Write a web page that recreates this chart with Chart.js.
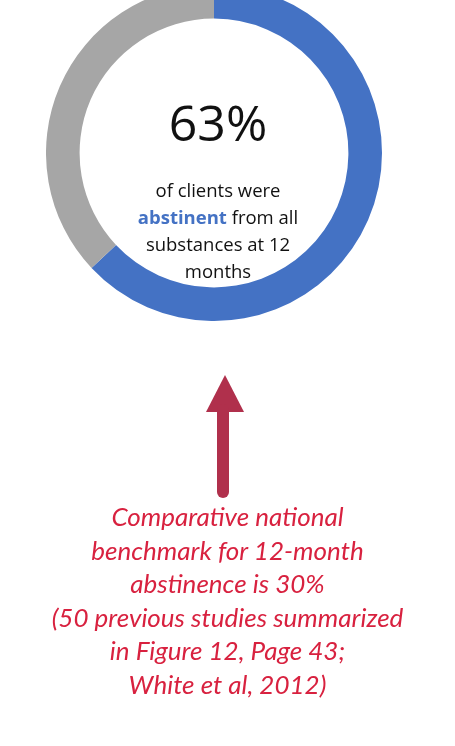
<!DOCTYPE html>
<html>
<head>
<meta charset="utf-8">
<script src="https://cdn.jsdelivr.net/npm/chart.js@4"></script>
<style>
  body { margin: 0; width: 455px; height: 746px; background: #fff; position: relative; overflow: hidden; font-family: "Open Sans", sans-serif; }
  #wrap { position: absolute; left: 46px; top: -15px; width: 336px; height: 336px; }
  .center { position: absolute; left: 94px; width: 248px; text-align: center; color: #111; }
  #big { top: 88px; font-size: 50px; font-family: "Open Sans", sans-serif; }
  #small { top: 176px; font-size: 18.5px; line-height: 27px; }
  #small b { color: #4472c4; }
  #note { position: absolute; left: 0; width: 455px; top: 500px; text-align: center; color: #d8213f;
          font-family: "Lato", sans-serif; font-style: italic; font-size: 26px; line-height: 33.5px; }
  svg { position: absolute; left: 0; top: 0; }
</style>
</head>
<body>
<div id="wrap"><canvas id="donut"></canvas></div>
<div class="center" id="big">63%</div>
<div class="center" id="small">of clients were<br><b>abstinent</b> from all<br>substances at 12<br>months</div>
<svg width="455" height="520">
  <polygon points="225,375 206,412 244,412" fill="#b0304c"/>
  <line x1="223" y1="410" x2="223" y2="492" stroke="#b0304c" stroke-width="12" stroke-linecap="round"/>
</svg>
<div id="note">Comparative national<br>benchmark for 12-month<br>abstinence is 30%<br>(50 previous studies summarized<br>in Figure 12, Page 43;<br>White et al, 2012)</div>
<script>
const labels = ['Abstinent', 'Not abstinent'];
const values = [63, 37];
const colors = ['#4472c4', '#a6a6a6'];

new Chart(document.getElementById('donut').getContext('2d'), {
    type: 'doughnut',
    data: {
        labels: labels,
        datasets: [{ data: values, backgroundColor: colors, borderWidth: 0 }]
    },
    options: {
        animation: false,
        responsive: true,
        maintainAspectRatio: false,
        cutout: '80%',
        plugins: { legend: { display: false }, tooltip: { enabled: false } }
    }
});
</script>
</body>
</html>
